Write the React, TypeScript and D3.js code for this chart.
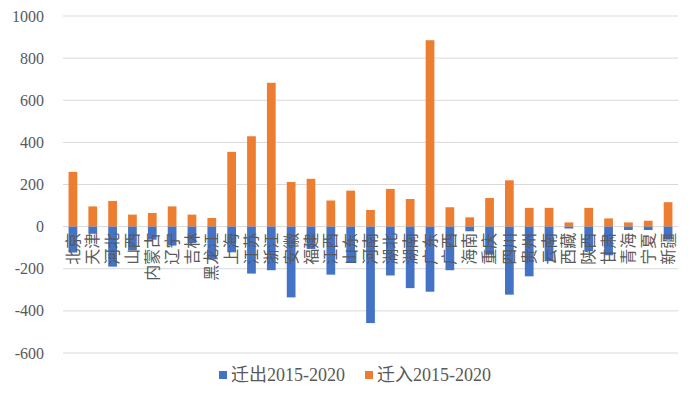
import React from "react";
import * as d3 from "d3";

const provinces = ["北京","天津","河北","山西","内蒙古","辽宁","吉林","黑龙江","上海","江苏","浙江","安徽","福建","江西","山东","河南","湖北","湖南","广东","广西","海南","重庆","四川","贵州","云南","西藏","陕西","甘肃","青海","宁夏","新疆"];
const outflow = [-123,-34,-190,-112,-62,-90,-78,-155,-122,-223,-207,-336,-106,-228,-170,-458,-232,-292,-309,-207,-22,-133,-323,-236,-164,-9,-117,-136,-16,-16,-60];
const inflow = [260,96,122,57,65,96,57,41,355,429,683,212,227,124,171,79,179,131,885,92,44,136,220,89,89,20,89,39,20,28,116];
const yTicks = [-600,-400,-200,0,200,400,600,800,1000];
const seriesNames = ["迁出2015-2020","迁入2015-2020"];
const colors = ["#4472C4","#ED7D31"];

export default function App() {
  const W = 700, H = 400;
  const left = 63, right = 678, top = 16, bottom = 353;
  const x = d3.scaleBand<string>().domain(provinces).range([left, right]).paddingInner(0.56).paddingOuter(0.28);
  const y = d3.scaleLinear().domain([-600, 1000]).range([bottom, top]);
  const bw = x.bandwidth();
  const font = "'Liberation Serif', 'Noto Sans CJK SC', serif";
  const txt = "#595959";
  return (
    <div style={{ position: "fixed", left: 0, top: 0 }}>
      <svg width={W} height={H} style={{ display: "block", background: "#fff" }}>
        {yTicks.map((t) => (
          <g key={t}>
            <line x1={left} x2={right} y1={y(t)} y2={y(t)} stroke="#d9d9d9" strokeWidth={1} />
            <text x={44} y={y(t)} dy="0.35em" textAnchor="end" fontFamily={font} fontSize={16} fill={txt}>{t}</text>
          </g>
        ))}
        {provinces.map((p, i) => (
          <g key={p}>
            <rect x={x(p)!} width={bw} y={y(inflow[i])} height={y(0) - y(inflow[i])} fill={colors[1]} />
            <rect x={x(p)!} width={bw} y={y(0)} height={y(outflow[i]) - y(0)} fill={colors[0]} />
          </g>
        ))}
        {provinces.map((p) => {
          const cx = x(p)! + bw / 2;
          const ty = y(0) + 6;
          return (
            <text key={"l" + p} transform={`translate(${cx},${ty}) rotate(-90)`} textAnchor="end" dy="0.35em"
              fontFamily="'Noto Sans CJK SC', sans-serif" fontSize={16} fill={txt}>{p}</text>
          );
        })}
        <rect x={219} y={371} width={8} height={8} fill={colors[0]} />
        <text x={231} y={381} fontFamily={font} fontSize={18} fill={txt}>{seriesNames[0]}</text>
        <rect x={365} y={371} width={8} height={8} fill={colors[1]} />
        <text x={377} y={381} fontFamily={font} fontSize={18} fill={txt}>{seriesNames[1]}</text>
      </svg>
    </div>
  );
}
